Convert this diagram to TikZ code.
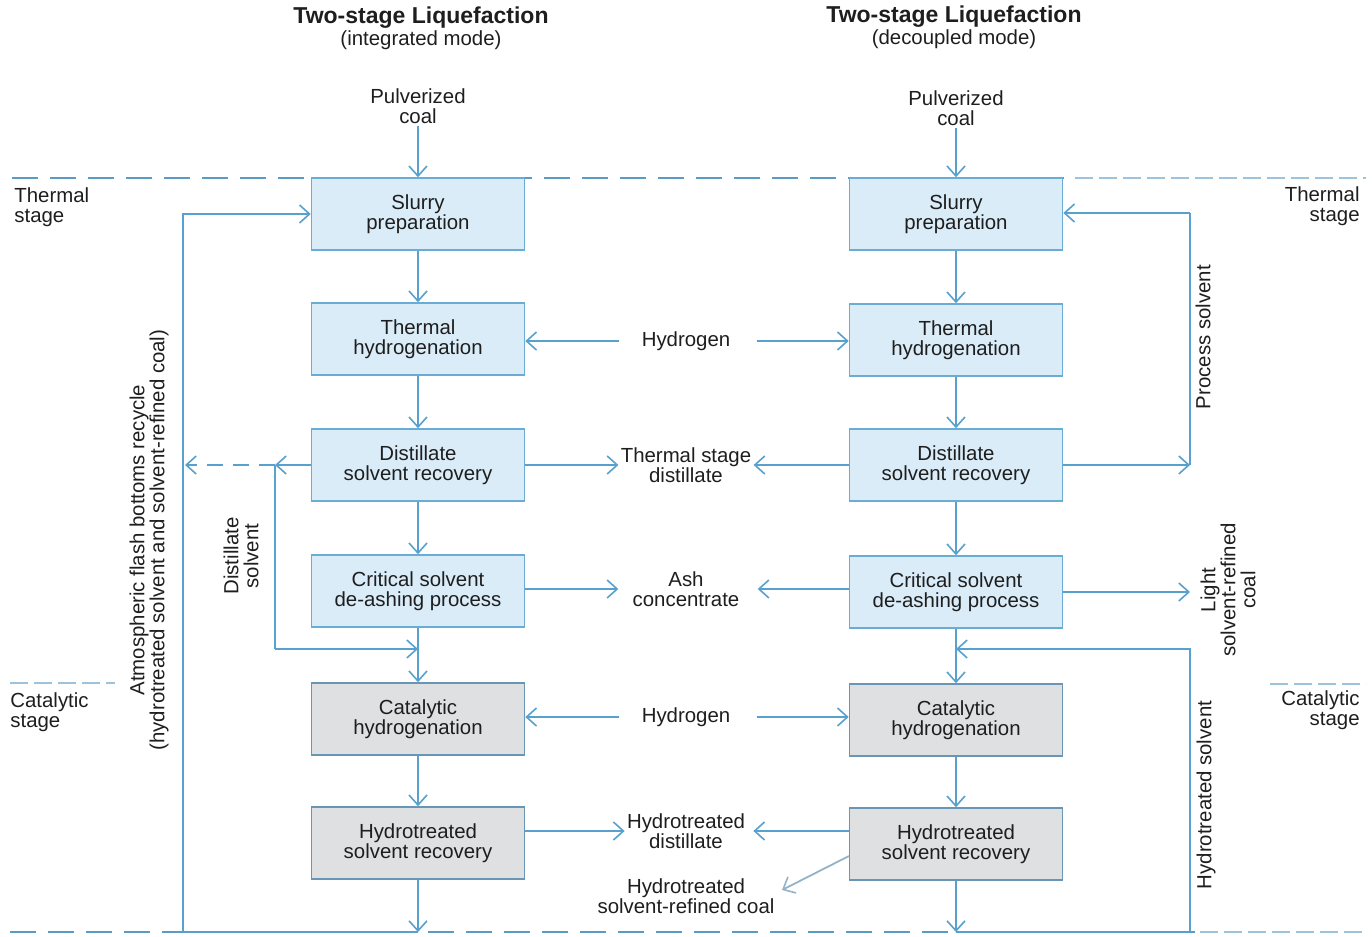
\documentclass[tikz,border=0pt]{standalone}
\usepackage{fontspec}
\setmainfont{Liberation Sans}
\usetikzlibrary{arrows.meta}
\newcommand\myfs{\fontsize{10.2}{10}\selectfont}
\definecolor{lineblue}{RGB}{88,160,205}
\definecolor{dashblue}{RGB}{90,155,195}
\definecolor{boxfill}{RGB}{218,236,248}
\definecolor{boxline}{RGB}{105,172,212}
\definecolor{grayfill}{RGB}{222,224,225}
\definecolor{grayline}{RGB}{105,150,180}
\definecolor{txt}{RGB}{30,30,30}
\tikzset{
  lbl/.style={font=\myfs, text=txt, align=center, inner sep=1pt},
  pbox/.style={lbl, draw=boxline, fill=boxfill, line width=0.8pt, minimum width=106.5pt, minimum height=36pt},
  gbox/.style={lbl, draw=grayline, fill=grayfill, line width=0.8pt, minimum width=106.5pt, minimum height=36pt},
  conn/.style={draw=lineblue, line width=0.9pt},
  flow/.style={conn, -{Straight Barb[length=5pt,width=9pt,line width=0.8pt]}},
  stageline/.style={draw=dashblue, line width=0.9pt, dash pattern=on 13pt off 6pt},
  faint/.style={draw=dashblue!60, line width=0.8pt, dash pattern=on 9pt off 3pt},
}
\begin{document}
\begin{tikzpicture}[x=0.5pt,y=-0.5pt]
\useasboundingbox (0,0) rectangle (1372,937);
% stage boundaries
\draw[stageline] (12,178) -- (1070,178);
\draw[faint] (1075,178) -- (1366,178);
\draw[faint] (10,683) -- (115,683);
\draw[faint] (1270,684) -- (1366,684);
\draw[stageline] (10,932) -- (1195,932);
\draw[faint] (1200,932) -- (1366,932);
% titles
\node[lbl, font=\fontsize{11.5}{12}\selectfont\bfseries] (t1) at (421,18) {Two-stage Liquefaction};
\node[lbl] (s1) at (421,40) {(integrated mode)};
\node[lbl, font=\fontsize{11.5}{12}\selectfont\bfseries] (t2) at (954,17) {Two-stage Liquefaction};
\node[lbl] (s2) at (954,39) {(decoupled mode)};
% stage labels
\node[lbl, align=left, anchor=west] (ts1) at (12,207) {Thermal\\stage};
\node[lbl, align=right, anchor=east] (ts2) at (1362,206) {Thermal\\stage};
\node[lbl, align=left, anchor=west] (cs1) at (8,712) {Catalytic\\stage};
\node[lbl, align=right, anchor=east] (cs2) at (1362,710) {Catalytic\\stage};
% coal
\node[lbl] (lcoal) at (418,106) {Pulverized\\coal};
\node[lbl] (rcoal) at (956,108) {Pulverized\\coal};
% left column
\node[pbox] (LS) at (418,214) {Slurry\\preparation};
\node[pbox] (LT) at (418,339) {Thermal\\hydrogenation};
\node[pbox] (LD) at (418,465) {Distillate\\solvent recovery};
\node[pbox] (LC) at (418,591) {Critical solvent\\de-ashing process};
\node[gbox] (LK) at (418,719) {Catalytic\\hydrogenation};
\node[gbox] (LH) at (418,843) {Hydrotreated\\solvent recovery};
% right column
\node[pbox] (RS) at (956,214) {Slurry\\preparation};
\node[pbox] (RT) at (956,340) {Thermal\\hydrogenation};
\node[pbox] (RD) at (956,465) {Distillate\\solvent recovery};
\node[pbox] (RC) at (956,592) {Critical solvent\\de-ashing process};
\node[gbox] (RK) at (956,720) {Catalytic\\hydrogenation};
\node[gbox] (RH) at (956,844) {Hydrotreated\\solvent recovery};
% centre labels
\node[lbl] (h1) at (686,341) {Hydrogen};
\node[lbl] (tsd) at (686,465) {Thermal stage\\distillate};
\node[lbl] (ash) at (686,589) {Ash\\concentrate};
\node[lbl] (h2) at (686,717) {Hydrogen};
\node[lbl] (hd) at (686,831) {Hydrotreated\\distillate};
\node[lbl] (hsrc) at (686,896) {Hydrotreated\\solvent-refined coal};
% vertical main flows
\draw[flow] (lcoal.south) -- (LS.north);
\draw[flow] (rcoal.south) -- (RS.north);
\foreach \a/\b in {LS/LT,LT/LD,LD/LC,LC/LK,LK/LH,RS/RT,RT/RD,RD/RC,RC/RK,RK/RH}
  \draw[flow] (\a.south) -- (\b.north);
% centre connections
\draw[flow, shorten <=10pt] (h1.west) -- (h1.west -| LT.east);
\draw[flow, shorten <=12pt] (h1.east) -- (h1.east -| RT.west);
\draw[flow] (LD.east) -- (tsd.west);
\draw[flow] (RD.west) -- (tsd.east);
\draw[flow] (LC.east |- ash) -- ([xshift=-6pt]ash.west);
\draw[flow] (RC.west |- ash) -- ([xshift=8pt]ash.east);
\draw[flow, shorten <=10pt] (h2.west) -- (h2.west -| LK.east);
\draw[flow, shorten <=12pt] (h2.east) -- (h2.east -| RK.west);
\draw[flow] (LH.east |- hd) -- (hd.west);
\draw[flow] (RH.west |- hd) -- ([xshift=3pt]hd.east);
\coordinate (hsrcs) at (849,856);
\coordinate (hsrct) at (782,890);
\draw[flow, draw=lineblue!60!gray!70] (hsrcs) -- (hsrct);
% left recycle loop
\coordinate (lb) at (418,932);
\coordinate (lc1) at (183,932);
\draw[flow] (LH.south) -- (lb);
\draw[flow] (lb) -- (lc1) |- (LS.west);
% distillate solvent
\coordinate (dj) at (275,465);
\coordinate (dk) at (275,649);
\coordinate (lm) at (418,649);
\coordinate (dl) at (185,465);
\draw[flow] (LD.west) -- (dj);
\draw[flow, dash pattern=on 8pt off 5pt] (dj) -- (dl);
\draw[conn] (dj) -- (dk);
\draw[flow] (dk) -- (lm);
% right process solvent
\coordinate (pa) at (1190,465);
\coordinate (pb) at (1190,213);
\coordinate (pc) at (1190,592);
\draw[flow] (RD.east) -- (pa);
\draw[conn] (pa) -- (pb);
\draw[flow] (pb) -- (pb -| RS.east);
\draw[flow] (RC.east |- pc) -- (pc);
% right hydrotreated solvent
\coordinate (rb) at (956,932);
\coordinate (rc) at (1190,932);
\coordinate (rd) at (1190,649);
\coordinate (rm) at (956,649);
\draw[flow] (RH.south) -- (rb);
\draw[flow] (rb) -- (rc) -- (rd) -- (rm);
% rotated labels
\node[lbl, rotate=90] (atm) at (149,540) {Atmospheric flash bottoms recycle\\(hydrotreated solvent and solvent-refined coal)};
\node[lbl, rotate=90] (ds) at (241,556) {Distillate\\solvent};
\node[lbl, rotate=90] (ps) at (1203,337) {Process solvent};
\node[lbl, rotate=90] (lsrc) at (1228,590) {Light\\solvent-refined\\coal};
\node[lbl, rotate=90] (hs) at (1206,795) {Hydrotreated solvent};
\end{tikzpicture}
\end{document}
